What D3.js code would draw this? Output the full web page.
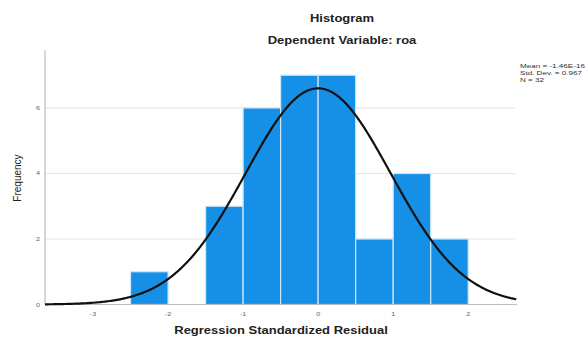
<!DOCTYPE html>
<html><head><meta charset="utf-8">
<script src="https://cdn.jsdelivr.net/npm/d3@7"></script>
<style>body{margin:0;background:#fff}svg{display:block}text{font-family:"Liberation Sans",Arial,sans-serif}</style>
</head><body>
<script>
const binStarts = [-2.5, -2.0, -1.5, -1.0, -0.5, 0.0, 0.5, 1.0, 1.5];
const frequencies = [1, 0, 3, 6, 7, 7, 2, 4, 2];
const binWidth = 0.5;
const xTicks = [-3, -2, -1, 0, 1, 2];
const yTicks = [0, 2, 4, 6];
const statsMean = -1.46e-16, statsSD = 0.967, statsN = 32;
const statsLines = ["Mean = -1.46E-16", "Std. Dev. = 0.967", "N = 32"];

const W = 585, H = 338;
const svg = d3.select("body").append("svg").attr("width", W).attr("height", H);
const x = d3.scaleLinear().domain([-3.64, 2.65]).range([45, 517]);
const y = d3.scaleLinear().domain([0, 7.77]).range([304.5, 50]);

// gridlines
svg.append("g").selectAll("line").data(yTicks.filter(d => d > 0)).join("line")
  .attr("x1", 45).attr("x2", 515).attr("y1", d => y(d)).attr("y2", d => y(d))
  .attr("stroke", "#e6e6e6").attr("stroke-width", 1.2);

// bars
svg.append("g").selectAll("rect").data(binStarts.map((s, i) => ({s, f: frequencies[i]})).filter(d => d.f > 0)).join("rect")
  .attr("x", d => x(d.s)).attr("width", d => x(d.s + binWidth) - x(d.s))
  .attr("y", d => y(d.f)).attr("height", d => y(0) - y(d.f))
  .attr("fill", "#1590e6").attr("stroke", "#cfe6fa").attr("stroke-width", 1.2);

// axes
svg.append("line").attr("x1", 45).attr("x2", 45).attr("y1", 50).attr("y2", 304.5).attr("stroke", "#bdbdbd").attr("stroke-width", 1.2);
svg.append("line").attr("x1", 45).attr("x2", 517).attr("y1", 304.5).attr("y2", 304.5).attr("stroke", "#bdbdbd").attr("stroke-width", 1.2);

svg.append("g").selectAll("text").data(yTicks).join("text")
  .attr("transform", d => `translate(38,${y(d) + 2}) scale(1.2,1)`).attr("text-anchor", "middle")
  .attr("font-size", 6).attr("fill", "#666").text(d => d);
svg.append("g").selectAll("text").data(xTicks).join("text")
  .attr("transform", d => `translate(${x(d)},316) scale(1.2,1)`).attr("text-anchor", "middle")
  .attr("font-size", 6).attr("fill", "#666").text(d => d);

// normal curve
const pts = d3.range(-3.64, 2.651, 0.02).map(v => [v, statsN * binWidth / (statsSD * Math.sqrt(2 * Math.PI)) * Math.exp(-0.5 * ((v - statsMean) / statsSD) ** 2)]);
svg.append("path").datum(pts).attr("fill", "none").attr("stroke", "#111").attr("stroke-width", 2.2)
  .attr("d", d3.line().x(d => x(d[0])).y(d => y(d[1])));

// titles (horizontally stretched like the reference)
function stretched(tx, ty, str, bold) {
  svg.append("text").attr("transform", `translate(${tx},${ty}) scale(1.3,1)`).attr("text-anchor", "middle")
    .attr("font-size", 10).attr("font-weight", bold ? "bold" : "normal").attr("fill", "#222").text(str);
}
stretched(342, 22, "Histogram", true);
stretched(342, 44, "Dependent Variable: roa", true);
stretched(281, 334, "Regression Standardized Residual", true);
svg.append("text").attr("transform", "translate(21,178) rotate(-90)").attr("text-anchor", "middle").attr("font-size", 10).attr("fill", "#222").text("Frequency");

svg.append("g").selectAll("text").data(statsLines).join("text")
  .attr("transform", (d, i) => `translate(520,${68 + i * 7}) scale(1.35,1)`).attr("font-size", 6).attr("fill", "#333").text(d => d);
</script>
</body></html>
